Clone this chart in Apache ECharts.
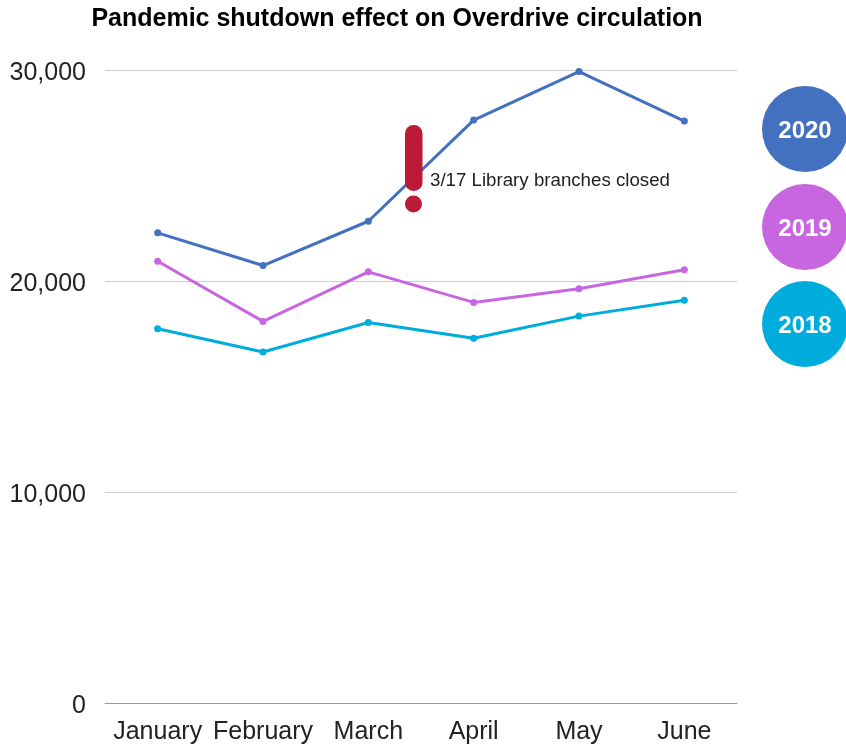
<!DOCTYPE html>
<html><head><meta charset="utf-8">
<style>html,body{margin:0;padding:0;background:#fff}#c{width:846px;height:746px}</style>
<script src="https://cdn.jsdelivr.net/npm/echarts@6/dist/echarts.min.js"></script></head>
<body><div id="c"></div>
<script>
const months = ["January","February","March","April","May","June"];
const y2020 = [22300,20750,22850,27650,29950,27600];
const y2019 = [20950,18100,20450,19000,19650,20550];
const y2018 = [17750,16650,18050,17300,18350,19100];
const F = "Liberation Sans";
const chart = echarts.init(document.getElementById('c'),null,{renderer:'canvas'});
const mk=(name,data,color)=>({name,type:'line',data,symbol:'circle',symbolSize:7,showSymbol:true,
 lineStyle:{color,width:3},itemStyle:{color},z:name==='2020'?3:2});
const badge=(txt,top,color)=>({type:'group',left:762,top,children:[
 {type:'circle',shape:{cx:43,cy:43,r:43},style:{fill:color}},
 {type:'text',style:{text:txt,x:43,y:45.5,align:'center',verticalAlign:'middle',fill:'#fff',font:'bold 24px "Liberation Sans"'}}]});
chart.setOption({
 animation:false,
 title:{text:'Pandemic shutdown effect on Overdrive circulation',left:392,top:2,textAlign:'center',
  textStyle:{fontFamily:F,fontWeight:'bold',fontSize:25,color:'#000'}},
 grid:{left:105,right:109,top:70.5,bottom:43,containLabel:false},
 xAxis:{type:'category',data:months,boundaryGap:true,axisTick:{show:false},
  axisLine:{lineStyle:{color:'#999',width:1}},
  axisLabel:{fontFamily:F,fontSize:25,color:'#222',margin:17,interval:0}},
 yAxis:{type:'value',min:0,max:30000,interval:10000,axisLine:{show:false},axisTick:{show:false},
  splitLine:{lineStyle:{color:'#ccc',width:1}},
  axisLabel:{fontFamily:F,fontSize:25,color:'#222',margin:19,verticalAlign:'top',lineHeight:6,formatter:v=>v.toLocaleString('en-US')}},
 series:[mk('2018',y2018,'#00acdc'),mk('2019',y2019,'#c866e0'),mk('2020',y2020,'#4470c0')],
 graphic:[badge('2020',86,'#4470c0'),badge('2019',184,'#c866e0'),badge('2018',281,'#00acdc'),
  {type:'rect',left:405,top:125,z:10,shape:{width:17.5,height:66,r:8.5},style:{fill:'#bd1a37'}},
  {type:'circle',left:405,top:195.5,z:10,shape:{r:8.5},style:{fill:'#bd1a37'}},
  {type:'text',left:430,top:171,z:10,style:{text:'3/17 Library branches closed',fill:'#222',font:'18.7px "Liberation Sans"'}}]
});
</script></body></html>
